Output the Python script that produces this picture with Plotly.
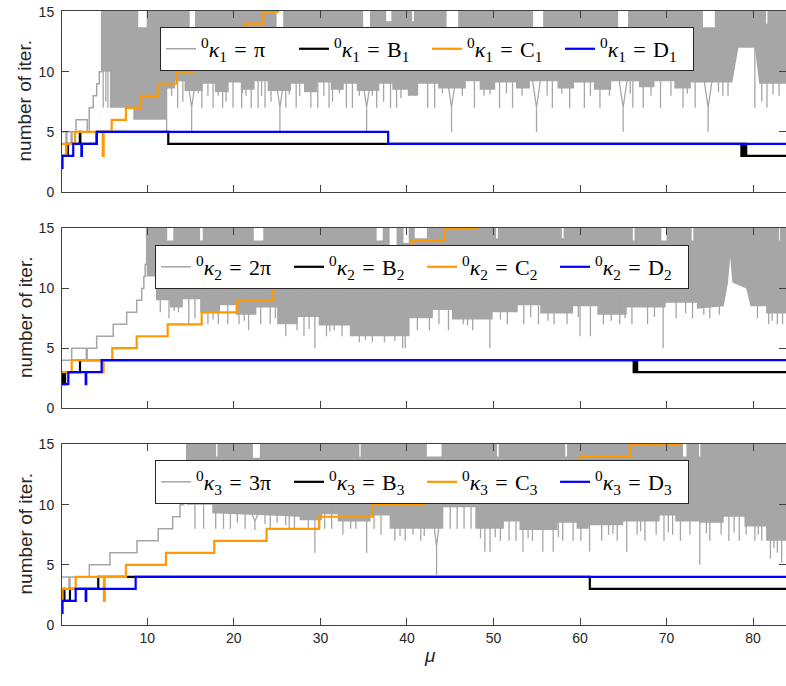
import plotly.graph_objects as go
from plotly.subplots import make_subplots

MU_RANGE = [0.14, 83.8]
IT_RANGE = [0, 15.05]

# ---- panel 1 : 0kappa_1 ----
g1_stair = [(0.14, 5), (0.6, 4), (0.7, 5), (1.2, 4), (1.3, 5), (1.76, 6), (3.06, 5), (3.29, 7),
            (3.75, 8), (4.15, 9), (4.45, 10), (4.72, 15)]
g1_lo = [(4.72, 10), (5.68, 10), (5.68, 7), (8.38, 7), (8.38, 6), (12.23, 6), (12.23, 8.6),
         (13.2, 8.6), (13.2, 9.2), (14.3, 9.2), (14.3, 8.4), (16.4, 8.4), (16.4, 9.0), (17.8, 9.0),
         (17.8, 8.3), (19.4, 8.3), (19.4, 9.1), (20.8, 9.1), (20.8, 8.5), (22.4, 8.5), (22.4, 9.2),
         (23.9, 9.2), (23.9, 8.4), (26.6, 8.4), (26.6, 9.0), (28.1, 9.0), (28.1, 8.3), (29.6, 8.3),
         (29.6, 9.1), (31.2, 9.1), (31.2, 8.5), (32.7, 8.5), (32.7, 9.0), (34.2, 9.0), (34.2, 8.4),
         (36.8, 8.4), (36.8, 9.0), (38.3, 9.0), (38.3, 8.5), (40.1, 8.5), (40.1, 8.0), (41.3, 8.0),
         (41.3, 9.0), (43.6, 9.0), (43.6, 8.6), (46.8, 8.6), (46.8, 9.2), (48.4, 9.2), (48.4, 8.5),
         (50.2, 8.5), (50.2, 9.1), (52.6, 9.1), (52.6, 8.6), (54.2, 8.6), (54.2, 9.2), (57.4, 9.2),
         (57.4, 8.6), (59.3, 8.6), (59.3, 9.1), (61.6, 9.1), (61.6, 8.5), (63.6, 8.5), (63.6, 9.2),
         (66.8, 9.2), (66.8, 8.7), (68.6, 8.7), (68.6, 9.2), (70.9, 9.2), (70.9, 8.6), (72.8, 8.6),
         (72.8, 9.1), (77.6, 9.1), (78.3, 12), (80.2, 12), (80.7, 9), (83.8, 9)]
g1_gaps = [(8.95, 9.92, 13.7), (14.9, 15.5, 13.7), (24.94, 25.7, 13.7), (34.94, 35.72, 13.7),
           (37.6, 38.2, 14.2), (40.6, 40.8, 14.2), (44.58, 45.92, 13.7), (54.58, 55.74, 13.7),
           (64.4, 65.55, 13.7), (74.2, 75.57, 13.7), (81.5, 81.65, 14.0)]
g1_vees = [(15.12, 5.0), (25.32, 5.0), (35.34, 5.0), (45.15, 5.0), (54.97, 5.0), (64.98, 5.0),
           (74.8, 5.0)]
g1_spikes = [(4.9, 7), (5.2, 7.5), (5.45, 7), (12.23, 5), (12.8, 8), (13.5, 7), (14.1, 7.5), (16.3, 7),
             (17.0, 8), (17.6, 7), (18.7, 7), (19.1, 7.5), (19.9, 7), (20.9, 7), (21.4, 8), (22.0, 7),
             (22.8, 7), (23.6, 7), (24.3, 7.5), (26.0, 7), (27.2, 7), (27.6, 8), (28.9, 7), (29.7, 7),
             (31.0, 7), (31.4, 7.5), (33.0, 7), (33.7, 7), (34.5, 8), (36.5, 7), (37.3, 7.5), (38.1, 7),
             (38.8, 7), (40.2, 8), (41.0, 8), (42.4, 7), (43.2, 7), (47.8, 7), (48.9, 8), (50.7, 7),
             (52.2, 7), (53.3, 8), (56.8, 7), (58.8, 7), (60.5, 7), (62.3, 7), (63.4, 8), (66.1, 7),
             (67.3, 7), (69.3, 7), (70.5, 8), (71.9, 7), (73.3, 7), (76.5, 8), (80.2, 7), (81.0, 7.5),
             (81.6, 7), (83.0, 8), (15.9, 8.2), (18.2, 8.0), (21.0, 8.2), (23.2, 8.0), (26.4, 8.1),
             (30.4, 8.0), (32.2, 8.2), (36.0, 8.0), (39.3, 7.8), (44.1, 8.2), (46.4, 8.0), (49.6, 8.1),
             (51.5, 8.2), (56.2, 8.0), (57.9, 8.2), (61.2, 8.0), (65.8, 8.2), (68.2, 8.0), (72.4, 8.2),
             (76.0, 8.3), (77.1, 8.0), (82.3, 8.1)]
B1 = [(0.14, 3), (0.7, 4), (0.75, 3), (0.83, 4), (2.2, 5), (2.26, 4), (4.15, 5), (12.42, 4),
      (78.65, 3), (78.75, 4), (78.85, 3), (78.95, 4), (79.05, 3), (79.15, 4), (79.2, 3), (83.8, 3)]
C1 = [(0.14, 4), (0.6, 3), (0.66, 4), (1.64, 5), (4.85, 3), (4.95, 5), (5.88, 6), (7.53, 7),
      (9.23, 8), (11.26, 9), (13.39, 10), (15.4, 11), (17.4, 12), (19.3, 13), (21.28, 14),
      (23.39, 15), (25.12, 16), (83.8, 16)]
D1 = [(0.14, 2), (0.2, 3), (1.44, 4), (2.38, 3), (2.44, 4), (4.15, 5), (37.83, 4), (83.8, 4)]

# ---- panel 2 : 0kappa_2 ----
g2_stair = [(0.14, 4), (1.26, 5), (2.95, 4), (3.05, 5), (4.15, 6), (6.06, 7), (7.61, 8), (8.77, 9),
            (9.35, 10), (9.6, 11), (9.75, 12), (9.92, 15)]
g2_lo = [(9.92, 11), (11.0, 11), (11.0, 9), (12.6, 9), (12.6, 8.4), (14.1, 8.4), (14.1, 9.1),
         (16.1, 9.1), (16.1, 8), (18.4, 8), (18.4, 8.6), (20.2, 8.6), (20.2, 7.8), (22.6, 7.8),
         (22.6, 8.4), (25.0, 8.4), (25.0, 7), (27.4, 7), (27.4, 7.6), (29.8, 7.6), (29.8, 6.9),
         (33.4, 6.9), (33.4, 6), (40.3, 6), (40.3, 7.5), (43.0, 7.5), (43.0, 8.2), (45.2, 8.2),
         (45.2, 7.4), (49.9, 7.4), (49.9, 8), (52.8, 8), (52.8, 8.6), (55.4, 8.6), (55.4, 7.9),
         (59.2, 7.9), (59.2, 8.5), (62.0, 8.5), (62.0, 7.8), (65.4, 7.8), (65.4, 8.4), (69.9, 8.4),
         (69.9, 8.8), (73.5, 8.8), (73.5, 8.3), (76.6, 8.5), (77.1, 10.5), (77.35, 12.6),
         (77.6, 10.5), (79.2, 10.0), (79.7, 8.5), (81.5, 8.5), (81.5, 7.9), (83.8, 7.9)]
g2_gaps = [(12.3, 13.0, 14.0), (16.1, 16.4, 14.0), (22.3, 23.4, 14.0), (36.5, 37.2, 14.0),
           (38.0, 38.8, 13.6), (39.6, 40.2, 13.8), (40.9, 42.3, 14.2), (50.3, 50.5, 14.2),
           (57.9, 58.1, 14.2), (66.1, 66.3, 14.0), (69.4, 70.0, 14.0), (72.9, 73.1, 14.0),
           (83.0, 83.1, 14.0)]
g2_vees = []
g2_spikes = [(11.5, 8), (12.5, 7.5), (13.6, 8), (14.8, 7), (15.5, 7.5), (17.0, 7), (18.2, 7),
             (19.3, 7), (20.6, 7), (21.7, 6.5), (23.1, 7), (24.2, 7), (26.0, 6), (27.3, 6.5),
             (28.1, 6), (29.36, 5), (30.7, 6), (31.6, 6.5), (32.5, 6), (34.5, 5.5), (36.0, 5.5),
             (37.4, 5.5), (39.5, 5), (39.8, 5), (41.2, 6.5), (42.6, 6.5), (44.8, 6.5), (46.5, 7),
             (47.6, 6.5), (49.58, 5), (51.6, 7), (53.5, 7), (55.2, 7), (57.0, 7), (58.5, 7),
             (60.0, 6), (61.2, 6), (62.7, 7), (64.6, 7), (66.0, 7), (67.8, 7), (69.6, 5),
             (71.1, 7.5), (73.0, 7.5), (75.0, 7.5), (80.5, 7.5), (81.8, 7), (82.8, 7), (83.4, 7),
             (13.1, 8.1), (17.6, 7.4), (21.2, 7.3), (24.8, 7.5), (28.7, 6.6), (31.1, 6.4), (35.2, 5.7),
             (38.6, 5.6), (43.7, 7.0), (47.0, 6.9), (50.8, 7.4), (54.3, 7.6), (56.3, 7.3), (59.8, 7.6),
             (63.6, 7.3), (65.2, 7.5), (68.6, 7.6), (72.2, 7.9), (74.3, 7.8), (76.1, 7.8), (82.2, 7.3)]
B2 = [(0.14, 3), (0.2, 2), (0.3, 3), (0.4, 2), (0.5, 3), (2.22, 4), (66.2, 3), (66.3, 4),
      (66.4, 3), (66.5, 4), (66.6, 3), (83.8, 3)]
C2 = [(0.14, 3), (1.26, 4), (4.85, 3), (4.95, 4), (5.95, 5), (8.77, 6), (12.35, 7), (16.28, 8),
      (20.39, 9), (24.55, 10), (28.5, 11), (32.5, 12), (36.5, 13), (40.53, 14), (44.38, 15),
      (48.11, 16), (83.8, 16)]
D2 = [(0.14, 2), (0.87, 3), (2.88, 2), (2.94, 3), (4.72, 4), (83.8, 4)]

# ---- panel 3 : 0kappa_3 ----
g3_stair = [(0.14, 4), (0.95, 3), (1.06, 4), (3.3, 5), (5.68, 6), (8.8, 7), (11.26, 8), (12.93, 9),
            (13.77, 10), (14.2, 11), (14.54, 15)]
g3_lo = [(14.54, 10), (17.5, 10), (17.5, 9.3), (27.6, 9.0), (27.6, 8.7), (30.2, 8.7), (30.2, 9.2),
         (32.0, 9.2), (32.0, 8.6), (35.8, 8.6), (35.8, 9.1), (38.0, 9.1), (38.0, 8.0), (44.2, 8.0),
         (44.2, 9.8), (47.9, 9.8), (47.9, 8.0), (51.2, 8.0), (51.2, 8.6), (53.0, 8.6), (53.0, 7.9),
         (57.4, 7.9), (57.4, 8.5), (59.6, 8.5), (59.6, 8.0), (61.0, 8.0), (61.0, 8.3), (65.0, 8.3),
         (65.0, 8.6), (69.2, 8.6), (69.2, 9.1), (71.0, 9.1), (71.0, 8.6), (73.8, 8.6), (73.8, 8.5),
         (76.6, 8.5), (76.6, 9.0), (79.0, 9.0), (79.0, 8.2), (81.5, 8.2), (81.5, 7.0), (83.8, 7.0)]
g3_gaps = [(17.95, 18.1, 14.0), (22.2, 23.0, 13.9), (34.5, 34.65, 14.0), (42.3, 44.0, 14.0),
           (50.4, 50.6, 14.0), (58.3, 58.5, 14.0), (71.9, 72.3, 14.0), (73.75, 73.9, 14.0)]
g3_vees = [(22.43, 7.9), (43.42, 4.15)]
g3_spikes = [(15.5, 8), (16.5, 8), (17.9, 8), (18.8, 8), (19.6, 8), (20.4, 8.5), (21.3, 8),
             (24.2, 8), (25.0, 8.5), (26.4, 8), (27.0, 8), (28.6, 8), (29.36, 6), (30.5, 8),
             (31.3, 8), (32.6, 7.5), (33.5, 8), (35.34, 6), (36.2, 8), (37.0, 7.5), (38.6, 7),
             (39.8, 7), (40.7, 7.5), (41.6, 7), (45.0, 8), (45.8, 8), (46.6, 8),
             (47.4, 8), (49.0, 6.1), (49.6, 6.1), (50.8, 7), (51.8, 7), (52.6, 7), (53.4, 6.1),
             (54.5, 7), (55.7, 6.1), (56.9, 6.1), (58.0, 7), (59.2, 7), (60.1, 7), (61.1, 6.1),
             (62.5, 7), (63.3, 7.5), (64.3, 7), (65.4, 6.1), (66.6, 7.5), (67.5, 7), (68.8, 7.5),
             (69.7, 7), (70.7, 7.5), (71.6, 7), (72.7, 7.5), (73.84, 5), (75.0, 7), (76.3, 7.5),
             (77.2, 7), (78.4, 7), (79.2, 7.5), (80.2, 7), (81.0, 7), (82.0, 5.5), (82.8, 6),
             (83.3, 5.2), (23.6, 8.4), (26.0, 8.3), (29.9, 8.1), (34.1, 8.0), (39.2, 7.4), (42.0, 7.4),
             (48.5, 7.2), (50.2, 7.3), (54.0, 7.2), (57.5, 7.3), (63.8, 7.6), (67.0, 7.8), (70.2, 7.7),
             (74.6, 7.6), (77.8, 7.7), (80.6, 7.5), (82.4, 6.4)]
B3 = [(0.14, 2), (0.37, 3), (0.42, 2), (1.06, 3), (4.33, 4), (61.13, 3), (83.8, 3)]
C3 = [(0.14, 2), (0.2, 3), (1.72, 4), (4.99, 2), (5.07, 4), (7.53, 5), (12.15, 6), (17.73, 7),
      (23.78, 8), (29.86, 9), (36.03, 10), (42.0, 11), (48.0, 12), (54.0, 13), (59.97, 14),
      (65.75, 15), (71.53, 16), (83.8, 16)]
D3 = [(0.14, 1), (0.2, 2), (1.72, 3), (2.88, 2), (2.94, 3), (8.65, 4), (83.8, 4)]

kappa_sub = ["1", "2", "3"]
gray_init = ["π", "2π", "3π"]

GRAY = "#a6a6a6"
ORANGE = "#ff9900"
BLUE = "#0000ff"
AXIS = "#404040"
TEXT = "#262626"

panels = [
    (g1_stair, g1_lo, g1_gaps, g1_vees, g1_spikes, B1, C1, D1),
    (g2_stair, g2_lo, g2_gaps, g2_vees, g2_spikes, B2, C2, D2),
    (g3_stair, g3_lo, g3_gaps, g3_vees, g3_spikes, B3, C3, D3),
]


def unzip(pairs):
    return [p[0] for p in pairs], [p[1] for p in pairs]


def band_polygon(lo, gaps, top=16.0):
    """Closed outline of the oscillating region: lower envelope, then the upper edge back."""
    lx, ly = unzip(lo)
    hx, hy = [lx[0]], [top]
    for g0, g1, gb in gaps:
        hx += [g0, g0, g1, g1]
        hy += [top, gb, gb, top]
    hx.append(lx[-1])
    hy.append(top)
    return lx + hx[::-1], ly + hy[::-1]


def spike_path(spikes, vees, base=12.0):
    """Isolated downward excursions: straight drops, and V-shaped dips ending in a drop."""
    xs, ys = [], []
    for sx, sy in spikes:
        xs += [sx, sx, None]
        ys += [sy, base, None]
    for vx, vy in vees:
        mid = vy + 0.45 * (9.5 - vy)
        xs += [vx - 0.5, vx, vx + 0.5, None, vx, vx, None]
        ys += [9.5, mid, 9.5, None, mid, vy, None]
    return xs, ys


# plot-area fractions of the three panels
domains = [(0.7052, 1.0), (0.3534, 0.6466), (0.0, 0.2948)]
legend_pos = [(0.1354, 0.974), (0.1285, 0.6189), (0.1285, 0.2687)]

fig = make_subplots(rows=3, cols=1, shared_xaxes=False, vertical_spacing=0.05)

EQ = "\u2004=\u2004"

for i, (stair, lo, gaps, vees, spikes, B, C, D) in enumerate(panels):
    row = i + 1
    leg = "legend" if i == 0 else f"legend{i + 1}"
    k = kappa_sub[i]
    lab = f"<sup>0</sup><i>κ</i><sub>{k}</sub>{EQ}"

    px, py = band_polygon(lo, gaps)
    fig.add_trace(go.Scatter(x=px, y=py, mode="lines", fill="toself", fillcolor=GRAY,
                             line=dict(width=0, color=GRAY), showlegend=False,
                             hoverinfo="skip"), row=row, col=1)
    sx, sy = spike_path(spikes, vees)
    fig.add_trace(go.Scatter(x=sx, y=sy, mode="lines", line=dict(width=1.3, color=GRAY),
                             showlegend=False, hoverinfo="skip"), row=row, col=1)
    gx, gy = unzip(stair)
    fig.add_trace(go.Scatter(x=gx, y=gy, mode="lines", line=dict(width=1.5, color=GRAY, shape="hv"),
                             name=lab + gray_init[i], legend=leg), row=row, col=1)
    for series, color, tag in [(B, "#000000", "B"), (C, ORANGE, "C"), (D, BLUE, "D")]:
        x, y = unzip(series)
        fig.add_trace(go.Scatter(x=x, y=y, mode="lines",
                                 line=dict(width=2.2, color=color, shape="hv"),
                                 name=f"{lab}{tag}<sub>{k}</sub>", legend=leg), row=row, col=1)

    xa = "xaxis" if i == 0 else f"xaxis{i + 1}"
    ya = "yaxis" if i == 0 else f"yaxis{i + 1}"
    fig.layout[xa].update(range=MU_RANGE, showgrid=False, zeroline=False, showline=True,
                          linecolor=AXIS, linewidth=1, mirror="ticks", ticks="inside",
                          ticklen=7, tickcolor=AXIS, tickvals=[10, 20, 30, 40, 50, 60, 70, 80],
                          showticklabels=(row == 3),
                          tickfont=dict(family="Liberation Sans", size=14, color=TEXT))
    fig.layout[ya].update(range=IT_RANGE, domain=list(domains[i]), showgrid=False, zeroline=False,
                          showline=True, linecolor=AXIS, linewidth=1, mirror="ticks",
                          ticks="inside", ticklen=7, tickcolor=AXIS, tickvals=[0, 5, 10, 15],
                          ticklabelstandoff=4,
                          tickfont=dict(family="Liberation Sans", size=14, color=TEXT))
    lx, ly = legend_pos[i]
    fig.layout[leg] = dict(orientation="h", x=lx, y=ly, xanchor="left", yanchor="top",
                           bgcolor="white", bordercolor=TEXT, borderwidth=1,
                           font=dict(family="Liberation Serif", size=22, color="black"),
                           entrywidth=88, itemwidth=30, tracegroupgap=0)
    fig.add_annotation(text="number of iter.", xref="paper", yref="paper", x=-0.0511,
                       y=sum(domains[i]) / 2, textangle=-90, showarrow=False,
                       xanchor="center", yanchor="middle",
                       font=dict(family="Liberation Sans", size=19, color=TEXT))

fig.add_annotation(text="<i>μ</i>", xref="paper", yref="paper", x=0.508, y=-0.0489,
                   showarrow=False, xanchor="center", yanchor="middle",
                   font=dict(family="Liberation Sans", size=19, color=TEXT))

fig.update_layout(width=786, height=686, margin=dict(l=62, r=0, t=11, b=61),
                  paper_bgcolor="white", plot_bgcolor="white", showlegend=True)

fig.write_html("out.html")
